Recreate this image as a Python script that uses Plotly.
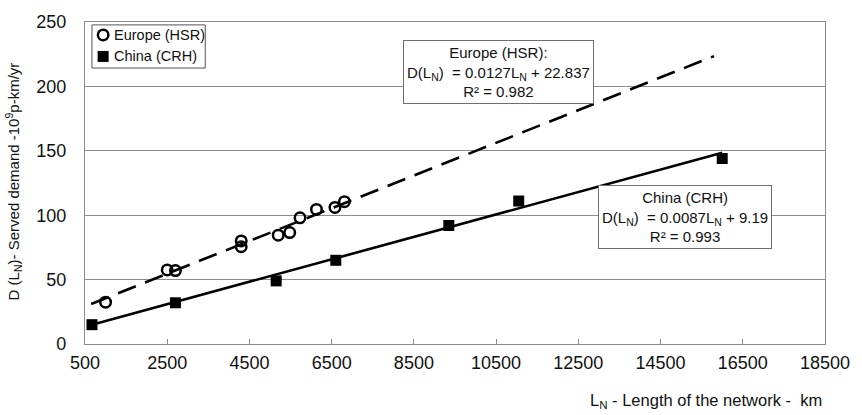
import plotly.graph_objects as go

# Network length (km) and served demand (10^9 p-km/yr)
europe_len = [1000, 2500, 2700, 4300, 4300, 5200, 5480, 5730, 6130, 6580, 6810]
europe_dem = [32.5, 57.5, 57.0, 80.0, 75.5, 84.5, 86.5, 98.0, 104.5, 106.0, 110.5]

china_len = [670, 2700, 5150, 6600, 9350, 11050, 16000]
china_dem = [15.0, 32.0, 49.0, 65.0, 92.0, 111.0, 144.0]

# Linear fits D(L) = a*L + b
europe_fit = (0.0127, 22.837)
china_fit = (0.0087, 9.19)
europe_fit_span = [650, 15800]
china_fit_span = [670, 16000]

series_names = ["Europe (HSR)", "China (CRH)"]

x_ticks = list(range(500, 18501, 2000))
y_ticks = list(range(0, 251, 50))

FONT = "Liberation Sans, Arial, sans-serif"
INK = "#111111"
GRID = "#8c8c8c"

europe_marker = dict(symbol="circle-open", size=10.5, color="black",
                     line=dict(width=2.5, color="black"))
china_marker = dict(symbol="square", size=11, color="black")

fig = go.Figure()

fig.add_trace(go.Scatter(
    x=europe_fit_span,
    y=[europe_fit[0] * v + europe_fit[1] for v in europe_fit_span],
    mode="lines", line=dict(color="black", width=2.6, dash="19px,10px"),
    showlegend=False, hoverinfo="skip"))
fig.add_trace(go.Scatter(
    x=china_fit_span,
    y=[china_fit[0] * v + china_fit[1] for v in china_fit_span],
    mode="lines", line=dict(color="black", width=2.6),
    showlegend=False, hoverinfo="skip"))

fig.add_trace(go.Scatter(
    x=europe_len, y=europe_dem, mode="markers", name=series_names[0],
    marker=europe_marker, showlegend=False))
fig.add_trace(go.Scatter(
    x=china_len, y=china_dem, mode="markers", name=series_names[1],
    marker=china_marker, showlegend=False))

# Boxed key in the upper-left corner (overlay axes span the plot area 0..1)
key_rows = [0.960, 0.893]
key_x = 0.0245
fig.add_shape(type="rect", xref="paper", yref="paper",
              x0=0.0094, x1=0.1625, y0=0.857, y1=0.991,
              line=dict(color="#555555", width=1), fillcolor="white",
              layer="between")
fig.add_trace(go.Scatter(
    x=[key_x], y=[key_rows[0]], xaxis="x2", yaxis="y2", mode="markers",
    marker=europe_marker, showlegend=False, hoverinfo="skip", cliponaxis=False))
fig.add_trace(go.Scatter(
    x=[key_x], y=[key_rows[1]], xaxis="x2", yaxis="y2", mode="markers",
    marker=china_marker, showlegend=False, hoverinfo="skip", cliponaxis=False))
for name, row in zip(series_names, key_rows):
    fig.add_annotation(x=0.0365, y=row, xref="paper", yref="paper",
                       xanchor="left", yanchor="middle", showarrow=False,
                       text=name, font=dict(family=FONT, size=14.5, color=INK))

fig.add_annotation(
    x=10550, y=211, xref="x", yref="y",
    text="Europe (HSR):<br>D(L<sub>N</sub>)\u00a0 = 0.0127L<sub>N</sub> + 22.837<br>R² = 0.982",
    showarrow=False, font=dict(family=FONT, size=15, color=INK),
    bgcolor="white", bordercolor="#6e6e6e", borderwidth=1, borderpad=3,
    align="center")
fig.add_annotation(
    x=15100, y=98.5, xref="x", yref="y",
    text="China (CRH)<br>D(L<sub>N</sub>)\u00a0 = 0.0087L<sub>N</sub> + 9.19<br>R² = 0.993",
    showarrow=False, font=dict(family=FONT, size=15, color=INK),
    bgcolor="white", bordercolor="#6e6e6e", borderwidth=1, borderpad=3,
    align="center")

fig.add_annotation(
    x=1, y=0, xref="paper", yref="paper", xanchor="right", yanchor="middle",
    yshift=-57, xshift=-1, showarrow=False,
    text="L<sub>N</sub> - Length of the network -\u00a0 km",
    font=dict(family=FONT, size=16.5, color=INK))
fig.add_annotation(
    x=0, y=0.505, xref="paper", yref="paper", xanchor="center", yanchor="middle",
    xshift=-72, showarrow=False, textangle=-90,
    text="D (L<sub>N</sub>)- Served demand -10<sup>9</sup>p-km/yr",
    font=dict(family=FONT, size=15, color=INK))

fig.update_xaxes(
    range=[500, 18500], tickvals=x_ticks, ticktext=[str(v) for v in x_ticks],
    showgrid=False, zeroline=False, showline=True, linecolor=GRID, linewidth=1.3,
    mirror=True, ticks="inside", ticklen=5, tickcolor=GRID, tickwidth=1.3,
    tickfont=dict(family=FONT, size=18, color=INK), ticklabelstandoff=2)
fig.update_yaxes(
    range=[0, 250], tickvals=y_ticks, ticktext=[str(v) for v in y_ticks],
    showgrid=True, gridcolor=GRID, gridwidth=1.3, zeroline=False,
    showline=True, linecolor=GRID, linewidth=1.3, mirror=True, ticks="",
    tickfont=dict(family=FONT, size=18, color=INK), ticklabelstandoff=14)

fig.update_layout(
    width=862, height=415,
    margin=dict(l=85, r=30, t=15, b=71),
    paper_bgcolor="white", plot_bgcolor="white",
    xaxis2=dict(overlaying="x", anchor="y2", range=[0, 1], visible=False,
                fixedrange=True),
    yaxis2=dict(overlaying="y", anchor="x2", range=[0, 1], visible=False,
                fixedrange=True),
    showlegend=False)

fig.write_html("out.html")
